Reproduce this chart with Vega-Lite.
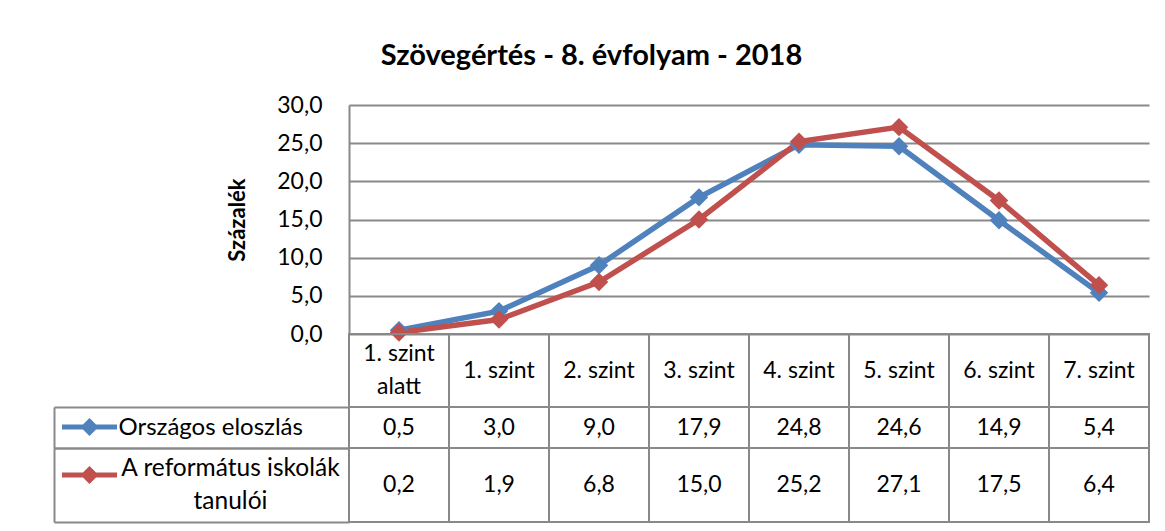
{
  "$schema": "https://vega.github.io/schema/vega-lite/v6.json",
  "padding": {"left": 53, "top": 42, "right": 5, "bottom": 5},
  "config": {
    "font": "Lato",
    "view": {"stroke": null},
    "locale": {"number": {"decimal": ",", "thousands": " ", "grouping": [3], "currency": ["", " Ft"]}},
    "axis": {"labelColor": "#000000", "titleColor": "#000000"}
  },
  "title": {"text": "Szövegértés - 8. évfolyam - 2018", "fontSize": 29, "fontWeight": "bold", "color": "#000000", "anchor": "middle", "frame": "bounds", "offset": 23, "dx": -10},
  "datasets": {
    "d": [
      {"level": "1. szint\nalatt", "series": "Országos eloszlás", "value": 0.5},
      {"level": "1. szint", "series": "Országos eloszlás", "value": 3.0},
      {"level": "2. szint", "series": "Országos eloszlás", "value": 9.0},
      {"level": "3. szint", "series": "Országos eloszlás", "value": 17.9},
      {"level": "4. szint", "series": "Országos eloszlás", "value": 24.8},
      {"level": "5. szint", "series": "Országos eloszlás", "value": 24.6},
      {"level": "6. szint", "series": "Országos eloszlás", "value": 14.9},
      {"level": "7. szint", "series": "Országos eloszlás", "value": 5.4},
      {"level": "1. szint\nalatt", "series": "A református iskolák tanulói", "value": 0.2},
      {"level": "1. szint", "series": "A református iskolák tanulói", "value": 1.9},
      {"level": "2. szint", "series": "A református iskolák tanulói", "value": 6.8},
      {"level": "3. szint", "series": "A református iskolák tanulói", "value": 15.0},
      {"level": "4. szint", "series": "A református iskolák tanulói", "value": 25.2},
      {"level": "5. szint", "series": "A református iskolák tanulói", "value": 27.1},
      {"level": "6. szint", "series": "A református iskolák tanulói", "value": 17.5},
      {"level": "7. szint", "series": "A református iskolák tanulói", "value": 6.4}
    ]
  },
  "vconcat": [
    {
      "width": 800,
      "height": 229,
      "data": {"name": "d"},
      "encoding": {
        "x": {"field": "level", "type": "nominal", "sort": null, "scale": {"type": "point", "padding": 0.5}, "axis": null},
        "y": {"field": "value", "type": "quantitative", "scale": {"domain": [0, 30], "nice": false},
          "axis": {"title": "Százalék", "titleFontSize": 22, "titleFontWeight": "bold", "titlePadding": 27, "values": [0, 5, 10, 15, 20, 25, 30], "format": ".1f", "labelFontSize": 23, "labelPadding": 27, "ticks": false, "domainColor": "#898989", "domainWidth": 2, "gridColor": "#898989", "gridWidth": 2, "grid": true}},
        "color": {"field": "series", "type": "nominal", "scale": {"domain": ["Országos eloszlás", "A református iskolák tanulói"], "range": ["#4F81BD", "#C0504D"]},
          "legend": {"orient": "none", "legendX": -272, "legendY": 309.5, "title": null, "padding": 0,
            "symbolType": "M-2.75,0H2.75M0,-0.55L0.55,0L0,0.55L-0.55,0Z", "symbolSize": 400, "symbolStrokeWidth": 5,
            "rowPadding": 17, "labelExpr": "''", "labelFontSize": 1, "symbolOffset": 0, "labelOffset": 0, "symbolOpacity": 1,
            "encode": {"symbols": {"update": {"stroke": {"scale": "color", "field": "value"}, "fill": {"scale": "color", "field": "value"}}}}}}
      },
      "layer": [
        {"mark": {"type": "line", "strokeWidth": 5.5}},
        {"mark": {"type": "point", "shape": "diamond", "filled": true, "size": 340, "opacity": 1}}
      ]
    },
    {
      "width": 800,
      "height": 73,
      "data": {"name": "d"},
      "transform": [{"filter": "datum.series == 'Országos eloszlás'"}],
      "encoding": {"x": {"field": "level", "type": "nominal", "sort": null, "scale": {"paddingInner": 0, "paddingOuter": 0}, "axis": null}},
      "layer": [
        {"mark": {"type": "rect", "filled": false, "stroke": "#898989", "strokeWidth": 2}},
        {"transform": [{"filter": "indexof(datum.level, '\\n') < 0"}],
          "mark": {"type": "text", "fontSize": 23, "color": "#000000", "baseline": "middle"}, "encoding": {"text": {"field": "level"}}},
        {"transform": [{"filter": "indexof(datum.level, '\\n') >= 0"}],
          "mark": {"type": "text", "fontSize": 23, "color": "#000000", "lineBreak": "\n", "lineHeight": 33, "baseline": "middle", "dy": -16.5}, "encoding": {"text": {"field": "level"}}}
      ]
    },
    {
      "width": 800,
      "height": 41,
      "data": {"name": "d"},
      "transform": [{"filter": "datum.series == 'Országos eloszlás'"}],
      "encoding": {
        "x": {"field": "level", "type": "nominal", "sort": null, "scale": {"paddingInner": 0, "paddingOuter": 0}, "axis": null},
        "y": {"field": "series", "type": "nominal", "scale": {"paddingInner": 0, "paddingOuter": 0},
          "axis": {"title": null, "orient": "left", "offset": 295, "domain": true, "domainColor": "#898989", "domainWidth": 2, "ticks": true, "tickSize": -295, "tickColor": "#898989", "tickWidth": 2, "bandPosition": 1, "tickExtra": true, "labelAlign": "left", "labelPadding": 231, "labelFontSize": 24, "labelLimit": 400, "labelBaseline": "middle"}}
      },
      "layer": [
        {"mark": {"type": "rect", "filled": false, "stroke": "#898989", "strokeWidth": 2}},
        {"mark": {"type": "text", "fontSize": 23, "color": "#000000", "baseline": "middle"}, "encoding": {"text": {"field": "value", "type": "quantitative", "format": ".1f"}}}
      ]
    },
    {
      "width": 800,
      "height": 74,
      "data": {"name": "d"},
      "transform": [{"filter": "datum.series == 'A református iskolák tanulói'"}],
      "encoding": {
        "x": {"field": "level", "type": "nominal", "sort": null, "scale": {"paddingInner": 0, "paddingOuter": 0}, "axis": null},
        "y": {"field": "series", "type": "nominal", "scale": {"paddingInner": 0, "paddingOuter": 0},
          "axis": {"title": null, "orient": "left", "offset": 295, "domain": true, "domainColor": "#898989", "domainWidth": 2, "ticks": true, "tickSize": -295, "tickColor": "#898989", "tickWidth": 2, "bandPosition": 1, "tickExtra": true, "labelAlign": "center", "labelPadding": 119, "labelFontSize": 24.5, "labelLimit": 400, "labelBaseline": "middle", "labelLineHeight": 33, "labelOffset": -16.5,
            "labelExpr": "datum.value == 'A református iskolák tanulói' ? ['A református iskolák', 'tanulói'] : datum.value"}}
      },
      "layer": [
        {"mark": {"type": "rect", "filled": false, "stroke": "#898989", "strokeWidth": 2}},
        {"mark": {"type": "text", "fontSize": 23, "color": "#000000", "baseline": "middle"}, "encoding": {"text": {"field": "value", "type": "quantitative", "format": ".1f"}}}
      ]
    }
  ],
  "spacing": 0,
  "bounds": "flush",
  "resolve": {"scale": {"x": "independent", "y": "independent"}}
}
